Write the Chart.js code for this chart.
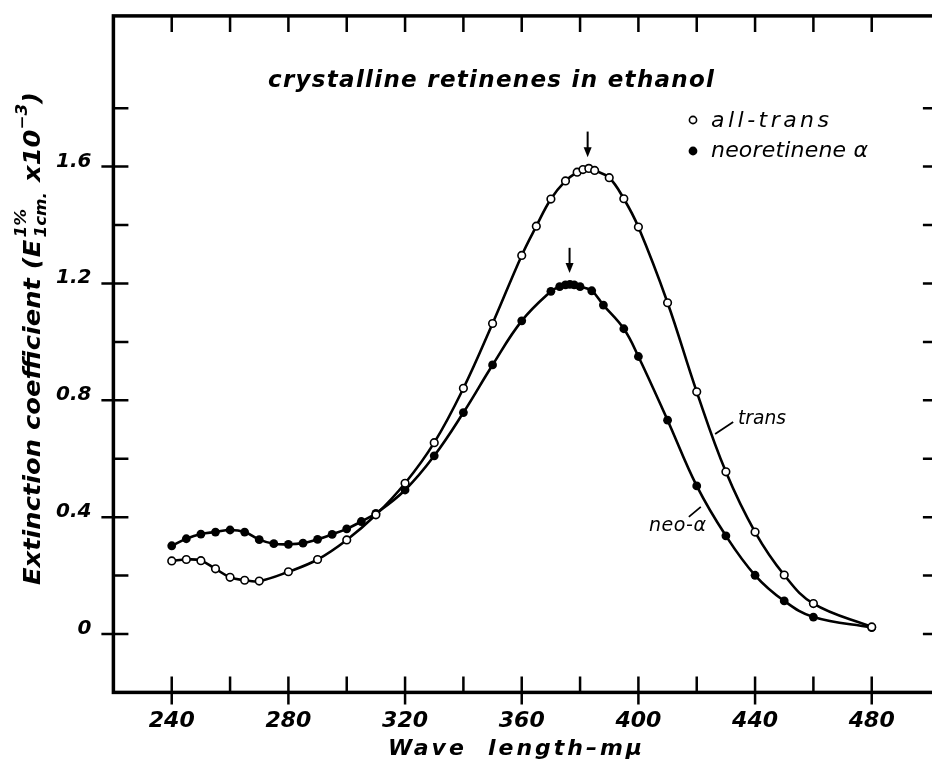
<!DOCTYPE html>
<html>
<head>
<meta charset="utf-8">
<title>crystalline retinenes in ethanol</title>
<script src="https://cdn.jsdelivr.net/npm/chart.js@4.4.1/dist/chart.umd.min.js"></script>
<style>
  html, body { margin: 0; padding: 0; background: #fff; overflow: hidden; }
  #wrap { position: relative; width: 945px; height: 762px; }
</style>
</head>
<body>
<div id="wrap"><canvas id="spectrum" width="945" height="762"></canvas></div>
<script>
// Values: wave length (mμ) and extinction (x10^-3)
const transWave = [240, 245, 250, 255, 260, 265, 270, 280, 290, 300, 310, 320, 330, 340, 350, 360, 365, 370, 375, 379, 381, 383, 385, 390, 395, 400, 410, 420, 430, 440, 450, 460, 480];
const transExt  = [0.250, 0.255, 0.251, 0.223, 0.194, 0.184, 0.181, 0.213, 0.255, 0.322, 0.408, 0.516, 0.655, 0.841, 1.063, 1.296, 1.396, 1.489, 1.551, 1.581, 1.590, 1.594, 1.587, 1.562, 1.490, 1.393, 1.134, 0.829, 0.555, 0.349, 0.202, 0.104, 0.024];

const neoWave = [240, 245, 250, 255, 260, 265, 270, 275, 280, 285, 290, 295, 300, 305, 310, 320, 330, 340, 350, 360, 370, 373, 375, 376.5, 378, 380, 384, 388, 395, 400, 410, 420, 430, 440, 450, 460, 480];
const neoExt  = [0.302, 0.326, 0.342, 0.349, 0.356, 0.349, 0.323, 0.309, 0.307, 0.311, 0.324, 0.341, 0.360, 0.385, 0.413, 0.493, 0.610, 0.758, 0.921, 1.072, 1.173, 1.189, 1.195, 1.197, 1.195, 1.189, 1.175, 1.126, 1.045, 0.950, 0.732, 0.507, 0.336, 0.201, 0.113, 0.058, 0.022];

// axis ticks
const xTicks  = [240, 260, 280, 300, 320, 340, 360, 380, 400, 420, 440, 460, 480];
const xLabels = [240, 280, 320, 360, 400, 440, 480];
const yTicks  = [0, 0.2, 0.4, 0.6, 0.8, 1.0, 1.2, 1.4, 1.6, 1.8];
const yLabels = [0, 0.4, 0.8, 1.2, 1.6];

const FONT = '"DejaVu Sans", sans-serif';

// draw text with extra letter spacing so it fills a given width
function spacedText(ctx, text, x, y, width) {
  ctx.letterSpacing = '0px';
  ctx.textAlign = 'left';
  const w = ctx.measureText(text).width;
  const gap = (width - w) / Math.max(text.length - 1, 1);
  if ('letterSpacing' in ctx && gap > 0) {
    ctx.letterSpacing = gap + 'px';
    ctx.fillText(text, x, y);
    ctx.letterSpacing = '0px';
  } else {
    ctx.fillText(text, x, y, width);
  }
}

// frame, inward ticks and the lettering around the plot
const paperAxes = {
  id: 'paperAxes',
  afterDatasetsDraw(chart) {
    const { ctx, chartArea: a, scales: { x, y } } = chart;
    ctx.save();
    ctx.strokeStyle = '#000';
    ctx.fillStyle = '#000';

    ctx.lineWidth = 3.5;
    ctx.strokeRect(a.left, a.top, a.right - a.left, a.bottom - a.top);

    ctx.lineWidth = 2.5;
    ctx.beginPath();
    xTicks.forEach(v => {
      const px = x.getPixelForValue(v);
      ctx.moveTo(px, a.top); ctx.lineTo(px, a.top + 16);
      ctx.moveTo(px, a.bottom - 16);
      ctx.lineTo(px, a.bottom + (xLabels.includes(v) ? 12 : 0));
    });
    yTicks.forEach(v => {
      const py = y.getPixelForValue(v);
      ctx.moveTo(a.left - (yLabels.includes(v) ? 12 : 0), py); ctx.lineTo(a.left + 15, py);
      ctx.moveTo(a.right - 13, py); ctx.lineTo(a.right, py);
    });
    ctx.stroke();

    // tick labels
    ctx.font = 'italic bold 22px ' + FONT;
    ctx.textAlign = 'center';
    ctx.textBaseline = 'alphabetic';
    xLabels.forEach(v => ctx.fillText(String(v), x.getPixelForValue(v), a.bottom + 35));

    ctx.font = 'italic bold 20px ' + FONT;
    ctx.textAlign = 'right';
    yLabels.forEach(v => ctx.fillText(v === 0 ? '0' : v.toFixed(1), a.left - 22, y.getPixelForValue(v)));

    // x title
    ctx.font = 'italic bold 22px ' + FONT;
    spacedText(ctx, 'Wave  length–mμ', 388, 755, 254);

    // y title, rotated, with sub/superscripts
    const big = 'italic bold 23px ' + FONT;
    const small = 'italic bold 15px ' + FONT;
    const parts = [
      { t: 'Extinction coefficient (', f: big, dy: 0 },
      { t: 'E', f: big, dy: 0 },
      { stack: [{ t: '1%', f: small, dy: -14 }, { t: '1cm.', f: small, dy: 6 }] },
      { t: ' x10', f: big, dy: 0 },
      { t: '−3', f: small, dy: -13 },
      { t: ')', f: big, dy: 0 }
    ];
    let total = 0;
    parts.forEach(p => {
      if (p.stack) {
        p.w = Math.max(...p.stack.map(s => { ctx.font = s.f; return ctx.measureText(s.t).width; })) + 3;
      } else {
        ctx.font = p.f; p.w = ctx.measureText(p.t).width;
      }
      total += p.w;
    });
    ctx.save();
    ctx.translate(40, 585);
    ctx.rotate(-Math.PI / 2);
    ctx.scale(493 / total, 1);
    ctx.textAlign = 'left';
    let cx = 0;
    parts.forEach(p => {
      if (p.stack) {
        p.stack.forEach(s => { ctx.font = s.f; ctx.fillText(s.t, cx + 2, s.dy); });
      } else {
        ctx.font = p.f; ctx.fillText(p.t, cx, p.dy);
      }
      cx += p.w;
    });
    ctx.restore();

    // heading inside the frame
    ctx.font = 'italic bold 23px ' + FONT;
    spacedText(ctx, 'crystalline retinenes in ethanol', 268, 87, 446);

    ctx.restore();
  }
};

// peak arrows, key and curve labels
const notes = {
  id: 'notes',
  afterDatasetsDraw(chart) {
    const { ctx, scales: { x, y } } = chart;
    ctx.save();
    ctx.strokeStyle = '#000';
    ctx.fillStyle = '#000';

    const arrows = [
      { at: 382.6, from: 1.72, to: 1.632 },
      { at: 376.4, from: 1.322, to: 1.236 }
    ];
    arrows.forEach(ar => {
      const px = x.getPixelForValue(ar.at);
      const y0 = y.getPixelForValue(ar.from);
      const y1 = y.getPixelForValue(ar.to);
      ctx.lineWidth = 2;
      ctx.beginPath();
      ctx.moveTo(px, y0); ctx.lineTo(px, y1 - 8);
      ctx.stroke();
      ctx.beginPath();
      ctx.moveTo(px - 4, y1 - 10); ctx.lineTo(px + 4, y1 - 10); ctx.lineTo(px, y1);
      ctx.closePath();
      ctx.fill();
    });

    // key
    ctx.lineWidth = 1.6;
    ctx.beginPath(); ctx.arc(693, 120, 3.6, 0, Math.PI * 2);
    ctx.fillStyle = '#fff'; ctx.fill(); ctx.stroke();
    ctx.fillStyle = '#000';
    ctx.beginPath(); ctx.arc(693, 151, 4.4, 0, Math.PI * 2); ctx.fill();
    ctx.font = 'italic 22px ' + FONT;
    spacedText(ctx, 'all-trans', 711, 127, 118);
    spacedText(ctx, 'neoretinene α', 711, 157, 157);

    // curve labels with leader lines
    ctx.font = 'italic 19px ' + FONT;
    spacedText(ctx, 'trans', 738, 424, 48);
    spacedText(ctx, 'neo-α', 649, 531, 57);
    ctx.lineWidth = 1.8;
    ctx.beginPath();
    ctx.moveTo(x.getPixelForValue(426.3), y.getPixelForValue(0.685));
    ctx.lineTo(x.getPixelForValue(432.5), y.getPixelForValue(0.726));
    ctx.moveTo(x.getPixelForValue(417.3), y.getPixelForValue(0.401));
    ctx.lineTo(x.getPixelForValue(421.4), y.getPixelForValue(0.435));
    ctx.stroke();
    ctx.restore();
  }
};

const pts = (xs, ys) => xs.map((v, i) => ({ x: v, y: ys[i] }));

const ctx = document.getElementById('spectrum').getContext('2d');
const spectrumChart = new Chart(ctx, {
  type: 'line',
  data: {
    datasets: [{
      label: 'all-trans',
      data: pts(transWave, transExt),
      borderColor: '#000',
      borderWidth: 2.6,
      tension: 0.4,
      pointRadius: 3.8,
      pointBorderWidth: 1.6,
      pointBorderColor: '#000',
      pointBackgroundColor: '#fff'
    }, {
      label: 'neoretinene α',
      data: pts(neoWave, neoExt),
      borderColor: '#000',
      borderWidth: 2.6,
      tension: 0.4,
      pointRadius: 4.4,
      pointBorderWidth: 0,
      pointBackgroundColor: '#000'
    }]
  },
  options: {
    responsive: false,
    devicePixelRatio: 1,
    animation: false,
    layout: { padding: { left: 113.4, right: 9.1, top: 15.9, bottom: 69.6 } },
    plugins: { legend: { display: false }, tooltip: { enabled: false } },
    scales: {
      x: { type: 'linear', min: 220, max: 502, display: false },
      y: { type: 'linear', min: -0.2, max: 2.116, display: false }
    }
  },
  plugins: [paperAxes, notes]
});
</script>
</body>
</html>
